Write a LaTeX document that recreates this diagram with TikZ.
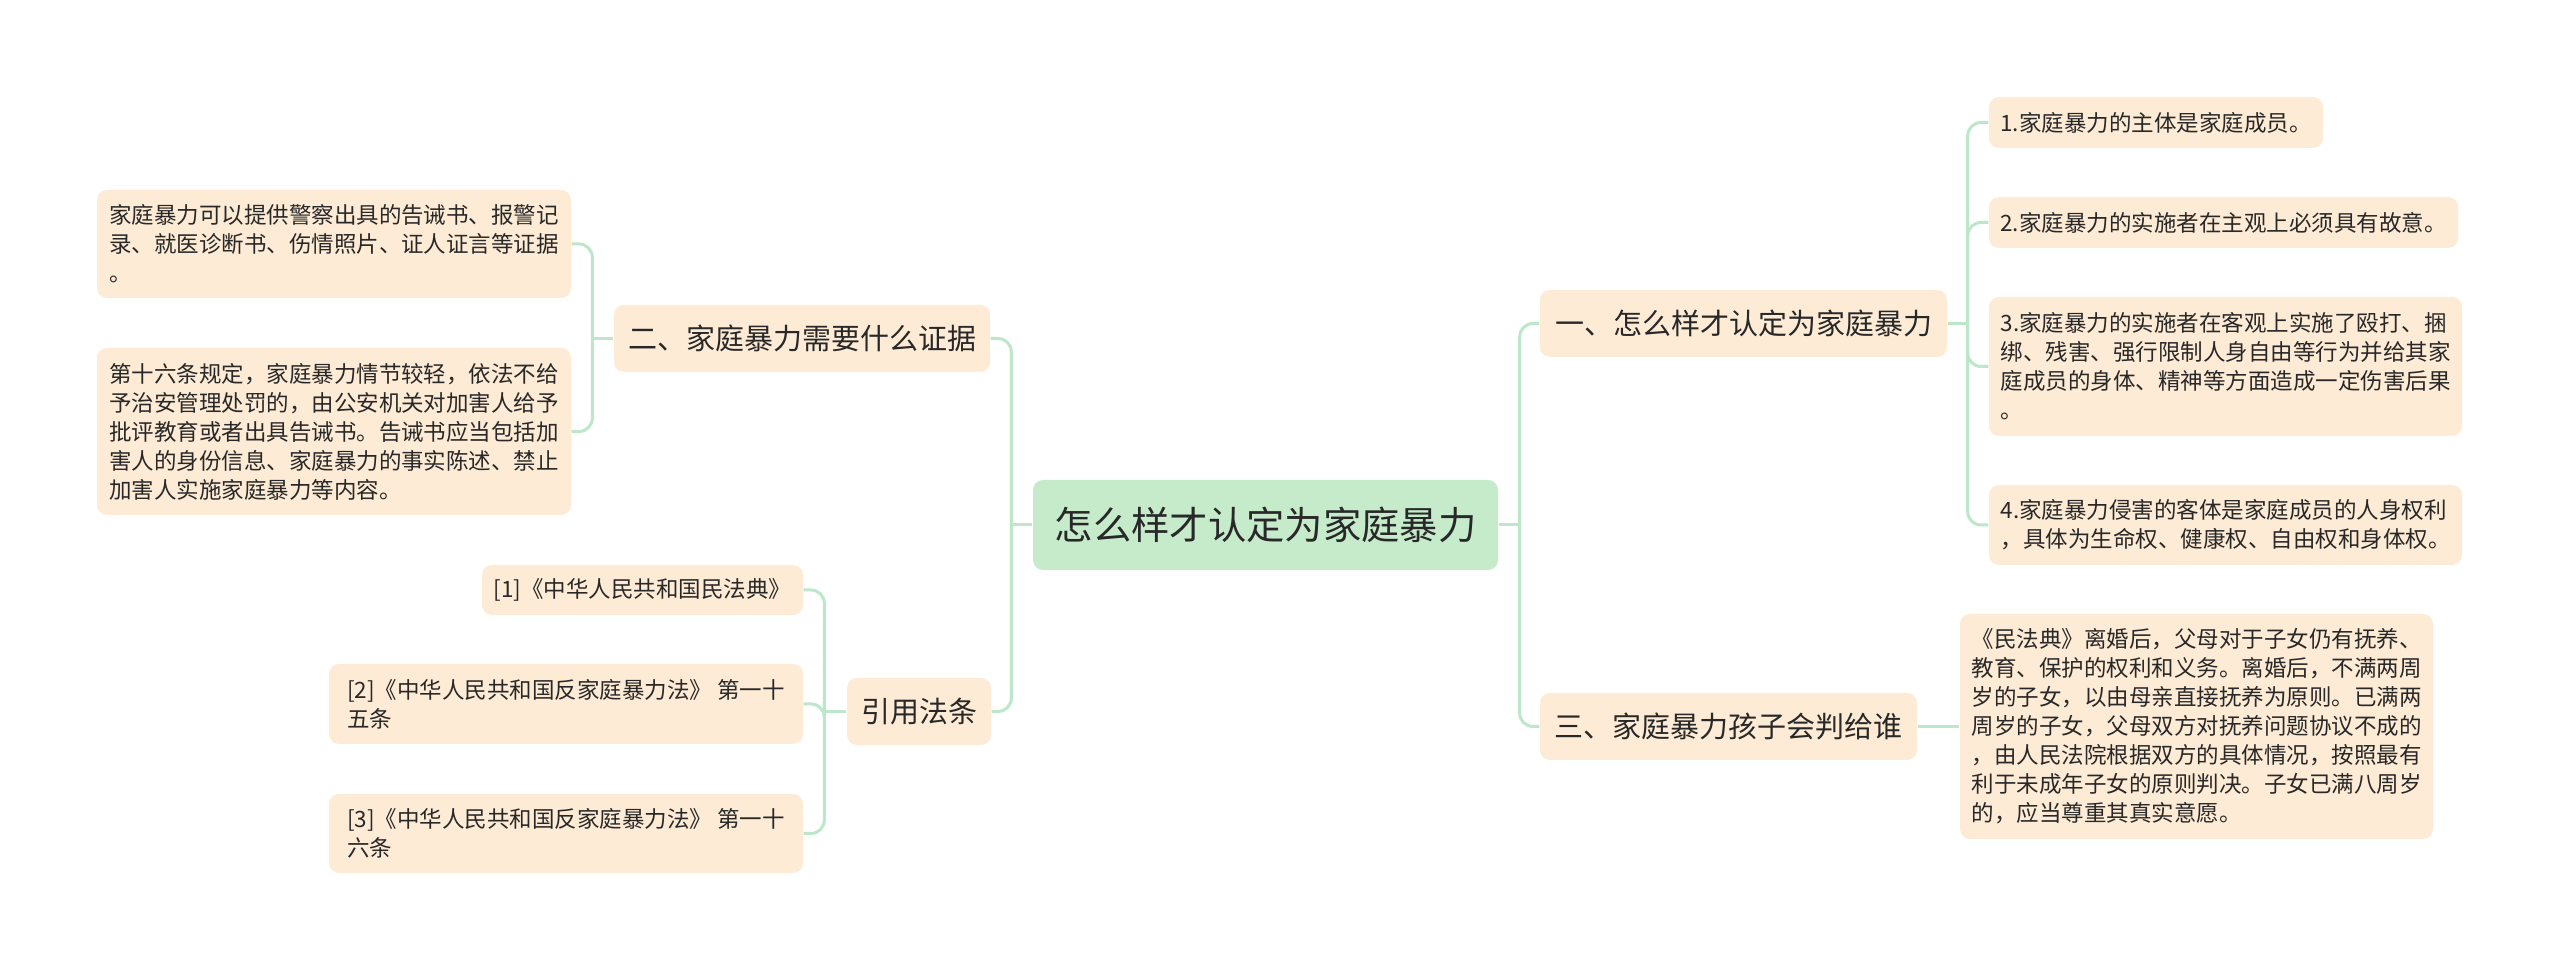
\documentclass[tikz,border=0pt]{standalone}
\usepackage{fontspec}
\setmainfont{Noto Sans CJK SC}
\usetikzlibrary{calc}
\definecolor{rootcolor}{RGB}{197,235,203}
\definecolor{leafcolor}{RGB}{253,235,213}
\definecolor{linkcolor}{RGB}{188,231,201}
\definecolor{inkcolor}{RGB}{40,40,40}
\tikzset{
  box/.style={fill=leafcolor, rounded corners=3pt, inner sep=0pt, text=inkcolor, align=left},
  roottopic/.style={box, fill=rootcolor, font=\fontsize{11.5}{14}\selectfont},
  subtopic/.style={box, minimum height=20.1pt, font=\fontsize{8.7}{10.5}\selectfont},
  leaf/.style={box, font=\fontsize{6.75}{8.7}\selectfont},
  link/.style={draw=linkcolor, line width=0.9pt, rounded corners=4pt},
}
\begin{document}
\begin{tikzpicture}[x=0.3pt, y=-0.3pt]
    \fill[white] (0,0) rectangle (2560,971);
    \useasboundingbox (0,0) rectangle (2560,971);
    % Root
    \node[roottopic, minimum width=139.5pt, minimum height=27pt] (root) at (1265.5,525) {怎么样才认定为家庭暴力};
    % Sub topics
    \node[subtopic, minimum width=122.1pt] (q1) at (1743.5,323.5) {一、怎么样才认定为家庭暴力};
    \node[subtopic, minimum width=113.1pt] (q3) at (1728.5,726.5) {三、家庭暴力孩子会判给谁};
    \node[subtopic, minimum width=112.8pt] (q2) at (802,338.5) {二、家庭暴力需要什么证据};
    \node[subtopic, minimum width=43.2pt] (cite) at (919,711.5) {引用法条};
    % Leaves of q1
    \node[leaf, minimum width=100.2pt, minimum height=15.3pt] (r1) at (2156,122.5) {1.家庭暴力的主体是家庭成员。};
    \node[leaf, minimum width=140.7pt, minimum height=15.3pt] (r2) at (2223.5,222.5) {2.家庭暴力的实施者在主观上必须具有故意。};
    \node[leaf, minimum width=141.9pt, minimum height=41.7pt] (r3) at (2225.5,366.5) {3.家庭暴力的实施者在客观上实施了殴打、捆\\绑、残害、强行限制人身自由等行为并给其家\\庭成员的身体、精神等方面造成一定伤害后果\\。};
    \node[leaf, minimum width=141.9pt, minimum height=24pt] (r4) at (2225.5,525) {4.家庭暴力侵害的客体是家庭成员的人身权利\\，具体为生命权、健康权、自由权和身体权。};
    % Leaf of q3
    \node[leaf, minimum width=141.9pt, minimum height=67.5pt] (r5) at (2196.5,726.5) {《民法典》离婚后，父母对于子女仍有抚养、\\教育、保护的权利和义务。离婚后，不满两周\\岁的子女，以由母亲直接抚养为原则。已满两\\周岁的子女，父母双方对抚养问题协议不成的\\，由人民法院根据双方的具体情况，按照最有\\利于未成年子女的原则判决。子女已满八周岁\\的，应当尊重其真实意愿。};
    % Leaves of q2
    \node[leaf, minimum width=142.2pt, minimum height=32.4pt] (l1) at (334,244) {家庭暴力可以提供警察出具的告诫书、报警记\\录、就医诊断书、伤情照片、证人证言等证据\\。};
    \node[leaf, minimum width=142.2pt, minimum height=50.1pt] (l2) at (334,431.5) {第十六条规定，家庭暴力情节较轻，依法不给\\予治安管理处罚的，由公安机关对加害人给予\\批评教育或者出具告诫书。告诫书应当包括加\\害人的身份信息、家庭暴力的事实陈述、禁止\\加害人实施家庭暴力等内容。};
    % Leaves of cite
    \node[leaf, minimum width=96.3pt, minimum height=15pt] (c1) at (642.5,590) {[1]《中华人民共和国民法典》};
    \node[leaf, minimum width=142.2pt, minimum height=24pt] (c2) at (566,704) {[2]《中华人民共和国反家庭暴力法》 第一十\\五条};
    \node[leaf, minimum width=142.2pt, minimum height=23.7pt] (c3) at (566,833.5) {[3]《中华人民共和国反家庭暴力法》 第一十\\六条};
    % Bus points
    \coordinate (rootL) at ($(root.west)+(-21,0)$);
    \coordinate (rootR) at ($(root.east)+(21,0)$);
    \coordinate (q1bus) at ($(q1.east)+(20,0)$);
    \coordinate (q2bus) at ($(q2.west)+(-21,0)$);
    \coordinate (citebus) at ($(cite.west)+(-22,0)$);
    % Links
    \draw[link] (root.west) -- (rootL);
    \draw[link] (root.east) -- (rootR);
    \foreach \n in {q2,cite} \draw[link] (rootL) |- (\n.east);
    \foreach \n in {q1,q3} \draw[link] (rootR) |- (\n.west);
    \draw[link] (q1.east) -- (q1bus);
    \foreach \n in {r1,r2,r3,r4} \draw[link] (q1bus) |- (\n.west);
    \draw[link] (q3.east) -- (r5.west);
    \draw[link] (q2.west) -- (q2bus);
    \foreach \n in {l1,l2} \draw[link] (q2bus) |- (\n.east);
    \draw[link] (cite.west) -- (citebus);
    \foreach \n in {c1,c2,c3} \draw[link] (citebus) |- (\n.east);
\end{tikzpicture}
\end{document}
